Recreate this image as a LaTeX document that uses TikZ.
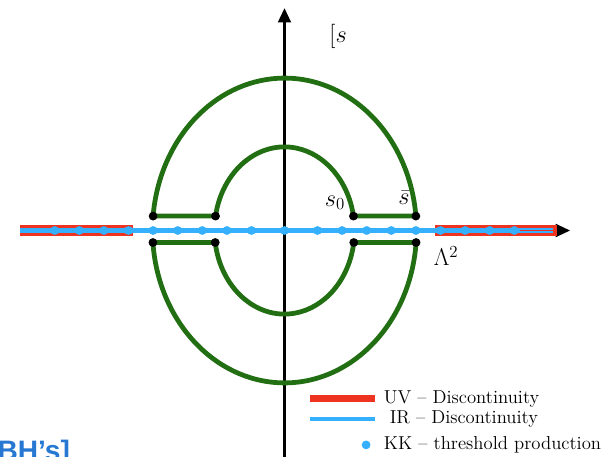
\documentclass[tikz,border=0pt]{standalone}
\usepackage{fontspec}
\newfontfamily\slidefont{Liberation Sans}
\usetikzlibrary{arrows.meta}
\definecolor{uvred}{RGB}{238,52,32}
\definecolor{irblue}{RGB}{52,176,255}
\definecolor{cutgreen}{RGB}{34,110,18}
\definecolor{refblue}{RGB}{38,120,210}
\begin{document}
\begin{tikzpicture}[>={Triangle[length=0.36cm,width=0.32cm]},
  axis/.style={line width=1.8pt,->},
  uvline/.style={uvred,line width=7.5pt},
  irline/.style={irblue,line width=3.2pt},
  kkdot/.style={circle,fill=irblue,inner sep=0pt,minimum size=0.22cm},
  enddot/.style={circle,fill=black,inner sep=0pt,minimum size=0.22cm},
  cut/.style={cutgreen,line width=3.4pt},
  lbl/.style={font=\LARGE},
  legtext/.style={anchor=west,font=\fontsize{13.3}{16}\selectfont}]
\useasboundingbox (-7.1125,-5.6625) rectangle (8.0875,5.7625);
% axes
\coordinate (yb) at (0,-5.8);
\coordinate (yt) at (0,5.56);
\coordinate (xl) at (-6.61,0);
\coordinate (xr) at (7.14,0);
\draw[axis] (yb) -- (yt);
\draw[axis] (xl) -- (xr);
% discontinuities
\coordinate (uvl) at (-3.79,0);
\coordinate (uvr1) at (3.76,0);
\coordinate (uvr2) at (6.81,0);
\coordinate (irr) at (6.72,0);
\coordinate (cr1) at (5.9,0);
\draw[uvline] (xl) -- (uvl);
\draw[uvline] (uvr1) -- (uvr2);
\draw[irline] (xl) -- (irr);
\draw[uvred,line width=0.8pt] (cr1) -- (irr);
\node[kkdot] (k0) at (0,0) {};
\foreach \k in {0,...,8}{
  \node[kkdot] (kr\k) at ({0.825+0.615*\k},0) {};
  \node[kkdot] (kl\k) at ({-0.825-0.615*\k},0) {};
}
% upper contour
\coordinate (uro) at (5.42:3.3cm and 3.81cm);
\coordinate (ulo) at (174.58:3.3cm and 3.81cm);
\coordinate (uli) at (170.08:1.75cm and 2.09cm);
\coordinate (uri) at (9.92:1.75cm and 2.09cm);
\draw[cut] (uro) arc[start angle=5.42,end angle=174.58,x radius=3.3cm,y radius=3.81cm]
  -- (uli) arc[start angle=170.08,end angle=9.92,x radius=1.75cm,y radius=2.09cm] -- cycle;
% lower contour
\coordinate (dro) at (-4.52:3.3cm and 3.81cm);
\coordinate (dlo) at (-175.48:3.3cm and 3.81cm);
\coordinate (dli) at (-171.75:1.75cm and 2.09cm);
\coordinate (dri) at (-8.25:1.75cm and 2.09cm);
\draw[cut] (dro) arc[start angle=-4.52,end angle=-175.48,x radius=3.3cm,y radius=3.81cm]
  -- (dli) arc[start angle=-171.75,end angle=-8.25,x radius=1.75cm,y radius=2.09cm] -- cycle;
\foreach \p in {uro,ulo,uli,uri,dro,dlo,dli,dri}
  \node[enddot] (\p-dot) at (\p) {};
% labels
\node[lbl] (plane) at (1.34,4.84) {[$s$};
\node[lbl] (s0) at (1.26,0.69) {$s_0$};
\node[lbl] (sbar) at (2.99,0.81) {$\bar{s}$};
\node[lbl] (lam) at (4.04,-0.64) {$\Lambda^2$};
% legend
\coordinate (luv1) at (0.64,-4.21);
\coordinate (luv2) at (2.26,-4.21);
\coordinate (lir1) at (0.64,-4.71);
\coordinate (lir2) at (2.26,-4.71);
\draw[uvred,line width=5pt] (luv1) -- (luv2);
\draw[irblue,line width=3pt] (lir1) -- (lir2);
\node[kkdot] (lkk) at (2.04,-5.36) {};
\node[legtext] (tuv) at (2.36,-4.21) {UV -- Discontinuity};
\node[legtext] (tir) at (2.51,-4.71) {IR -- Discontinuity};
\node[legtext] (tkk) at (2.36,-5.36) {KK -- threshold production};
\node[anchor=base west,inner sep=0pt,text=refblue,font=\slidefont\bfseries\fontsize{20}{24}\selectfont] (bh) at (-7.18,-5.76) {BH’s]};
\end{tikzpicture}
\end{document}
